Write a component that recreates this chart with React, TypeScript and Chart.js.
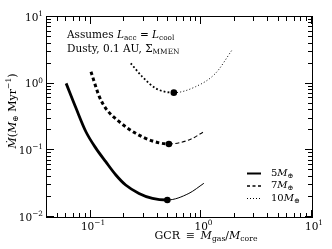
import React, { useEffect, useRef } from "react";
import { Chart, registerables } from "chart.js";
Chart.register(...registerables);

// GCR (x) and accretion rate (y)
const gcr5 = [0.0596, 0.0733, 0.09, 0.111, 0.136, 0.168, 0.206, 0.272, 0.36, 0.491, 0.769, 1.05];
const mdot5 = [1.01, 0.427, 0.19, 0.107, 0.0676, 0.0427, 0.0302, 0.0226, 0.019, 0.018, 0.0226, 0.032];
const gcr7 = [0.1, 0.119, 0.136, 0.18, 0.254, 0.36, 0.507, 0.769, 1.05];
const mdot7 = [1.51, 0.64, 0.427, 0.269, 0.18, 0.138, 0.1245, 0.143, 0.19];
const gcr10 = [0.229, 0.292, 0.386, 0.562, 0.883, 1.34, 1.89];
const mdot10 = [2.02, 1.27, 0.85, 0.733, 0.9, 1.43, 3.2];
const seriesMasses = ["5", "7", "10"];
const xTickExps = [-1, 0, 1];
const yTickExps = [-2, -1, 0, 1];
const X_MIN = 0.04;
const X_MAX = 10;
const Y_MIN = 0.01;
const Y_MAX = 10;

const FONT = '"DejaVu Serif", "Liberation Serif", serif';

type Seg = { t: string; i?: boolean; sub?: boolean; sup?: boolean };

function segFont(s: Seg, size: number) {
  const sz = s.sub || s.sup ? size * 0.7 : size;
  return `${s.i ? "italic " : ""}${sz}px ${FONT}`;
}
function measureRich(ctx: CanvasRenderingContext2D, segs: Seg[], size: number) {
  let w = 0;
  for (const s of segs) {
    ctx.font = segFont(s, size);
    w += ctx.measureText(s.t).width;
  }
  return w;
}
function drawRich(
  ctx: CanvasRenderingContext2D,
  segs: Seg[],
  x: number,
  y: number,
  size: number,
  align: "left" | "center" | "right"
) {
  const w = measureRich(ctx, segs, size);
  let cx = align === "left" ? x : align === "center" ? x - w / 2 : x - w;
  ctx.textBaseline = "middle";
  ctx.textAlign = "left";
  for (const s of segs) {
    ctx.font = segFont(s, size);
    const dy = s.sub ? size * 0.28 : s.sup ? -size * 0.38 : 0;
    ctx.fillText(s.t, cx, y + dy);
    cx += ctx.measureText(s.t).width;
  }
}

type Style = { w: number; d: number[] };
function makeDs(xs: number[], ys: number[], thick: Style, thin: Style) {
  const minIdx = ys.indexOf(Math.min(...ys));
  return {
    data: xs.map((x, i) => ({ x, y: ys[i] })),
    showLine: true,
    borderColor: "#000",
    backgroundColor: "#000",
    borderWidth: thick.w,
    borderDash: thick.d,
    cubicInterpolationMode: "monotone" as const,
    pointRadius: (c: any) => (c.dataIndex === minIdx ? 3.3 : 0),
    pointBorderWidth: 0,
    pointHoverRadius: 0,
    segment: {
      borderWidth: (c: any) => (c.p0DataIndex >= minIdx ? thin.w : thick.w),
      borderDash: (c: any) => (c.p0DataIndex >= minIdx ? thin.d : thick.d),
    },
  };
}

const styles: Style[][] = [
  [{ w: 2.8, d: [] }, { w: 1, d: [] }],
  [{ w: 3, d: [3.5, 2.8] }, { w: 1.1, d: [4, 2.5] }],
  [{ w: 1.8, d: [1.8, 2.2] }, { w: 1, d: [1, 2.2] }],
];
const legendStyles: Style[] = [
  { w: 2, d: [] },
  { w: 1.4, d: [3, 2.5] },
  { w: 1, d: [1, 2] },
];

const decorPlugin = {
  id: "decor",
  beforeDraw(chart: any) {
    const ctx = chart.ctx as CanvasRenderingContext2D;
    ctx.save();
    ctx.fillStyle = "#fff";
    ctx.fillRect(0, 0, chart.width, chart.height);
    ctx.restore();
  },
  afterDraw(chart: any) {
    const ctx = chart.ctx as CanvasRenderingContext2D;
    const a = chart.chartArea;
    const xs = chart.scales.x;
    const ys = chart.scales.y;
    ctx.save();
    ctx.strokeStyle = "#000";
    ctx.fillStyle = "#000";
    ctx.lineWidth = 1;
    ctx.setLineDash([]);
    ctx.strokeRect(a.left - 0.5, a.top - 0.5, a.right - a.left + 1, a.bottom - a.top + 1);

    // ticks
    ctx.beginPath();
    for (let e = -2; e <= 1; e++) {
      for (let k = 1; k <= 9; k++) {
        const v = k * Math.pow(10, e);
        const len = k === 1 ? 7 : 4;
        if (v >= X_MIN * 0.999 && v <= X_MAX * 1.001) {
          const px = Math.round(xs.getPixelForValue(v)) - 0.5;
          ctx.moveTo(px, a.bottom);
          ctx.lineTo(px, a.bottom - len);
          ctx.moveTo(px, a.top);
          ctx.lineTo(px, a.top + len);
        }
        if (v >= Y_MIN * 0.999 && v <= Y_MAX * 1.001) {
          const py = Math.round(ys.getPixelForValue(v)) - 0.5;
          ctx.moveTo(a.left, py);
          ctx.lineTo(a.left + len, py);
          ctx.moveTo(a.right, py);
          ctx.lineTo(a.right - len, py);
        }
      }
    }
    ctx.stroke();

    // tick labels
    const fs = 10.5;
    for (const e of xTickExps) {
      const px = xs.getPixelForValue(Math.pow(10, e));
      const segs: Seg[] = [{ t: "10" }, { t: String(e).replace("-", "\u2212"), sup: true }];
      drawRich(ctx, segs, px + 2, a.bottom + 10, fs, "center");
    }
    for (const e of yTickExps) {
      const py = ys.getPixelForValue(Math.pow(10, e));
      const segs: Seg[] = [{ t: "10" }, { t: String(e).replace("-", "\u2212"), sup: true }];
      drawRich(ctx, segs, a.left - 4, py + 1, fs, "right");
    }

    // axis titles
    drawRich(
      ctx,
      [
        { t: "GCR \u2009\u2261\u2009 " },
        { t: "M", i: true },
        { t: "gas", sub: true },
        { t: "/" },
        { t: "M", i: true },
        { t: "core", sub: true },
      ],
      206,
      a.bottom + 19,
      11,
      "center"
    );
    ctx.save();
    ctx.translate(13, 111);
    ctx.rotate(-Math.PI / 2);
    drawRich(
      ctx,
      [
        { t: "\u1E40", i: true },
        { t: "(" },
        { t: "M", i: true },
        { t: "\u2295", sub: true },
        { t: " Myr" },
        { t: "\u22121", sup: true },
        { t: ")" },
      ],
      0,
      0,
      11,
      "center"
    );
    ctx.restore();

    // annotation
    drawRich(
      ctx,
      [
        { t: "Assumes " },
        { t: "L", i: true },
        { t: "acc", sub: true },
        { t: " = " },
        { t: "L", i: true },
        { t: "cool", sub: true },
      ],
      a.left + 20,
      a.top + 18,
      fs,
      "left"
    );
    drawRich(
      ctx,
      [{ t: "Dusty, 0.1 AU, \u03A3" }, { t: "MMEN", sub: true }],
      a.left + 20,
      a.top + 32,
      fs,
      "left"
    );

    // legend
    const rows = [173, 185.5, 198];
    seriesMasses.forEach((m, i) => {
      const st = legendStyles[i];
      ctx.lineWidth = st.w;
      ctx.setLineDash(st.d);
      ctx.beginPath();
      ctx.moveTo(247, rows[i] + 0.5);
      ctx.lineTo(261, rows[i] + 0.5);
      ctx.stroke();
      ctx.setLineDash([]);
      drawRich(
        ctx,
        [{ t: m }, { t: "M", i: true }, { t: "\u2295", sub: true }],
        271,
        rows[i],
        fs - 0.5,
        "left"
      );
    });
    ctx.restore();
  },
};

export default function App() {
  const ref = useRef<HTMLCanvasElement | null>(null);
  useEffect(() => {
    if (!ref.current) return;
    const chart = new Chart(ref.current, {
      type: "scatter",
      data: {
        datasets: [
          makeDs(gcr5, mdot5, styles[0][0], styles[0][1]),
          makeDs(gcr7, mdot7, styles[1][0], styles[1][1]),
          makeDs(gcr10, mdot10, styles[2][0], styles[2][1]),
        ] as any,
      },
      options: {
        animation: false,
        responsive: false,
        devicePixelRatio: 1,
        events: [],
        layout: { padding: { left: 47, top: 17, right: 20, bottom: 32 } },
        plugins: { legend: { display: false }, tooltip: { enabled: false } },
        scales: {
          x: { type: "logarithmic", min: X_MIN, max: X_MAX, display: false },
          y: { type: "logarithmic", min: Y_MIN, max: Y_MAX, display: false },
        },
      },
      plugins: [decorPlugin],
    });
    return () => chart.destroy();
  }, []);
  return (
    <div style={{ position: "fixed", left: 0, top: 0, width: 332, height: 249, background: "#fff" }}>
      <canvas ref={ref} width={332} height={249} style={{ display: "block" }} />
    </div>
  );
}
